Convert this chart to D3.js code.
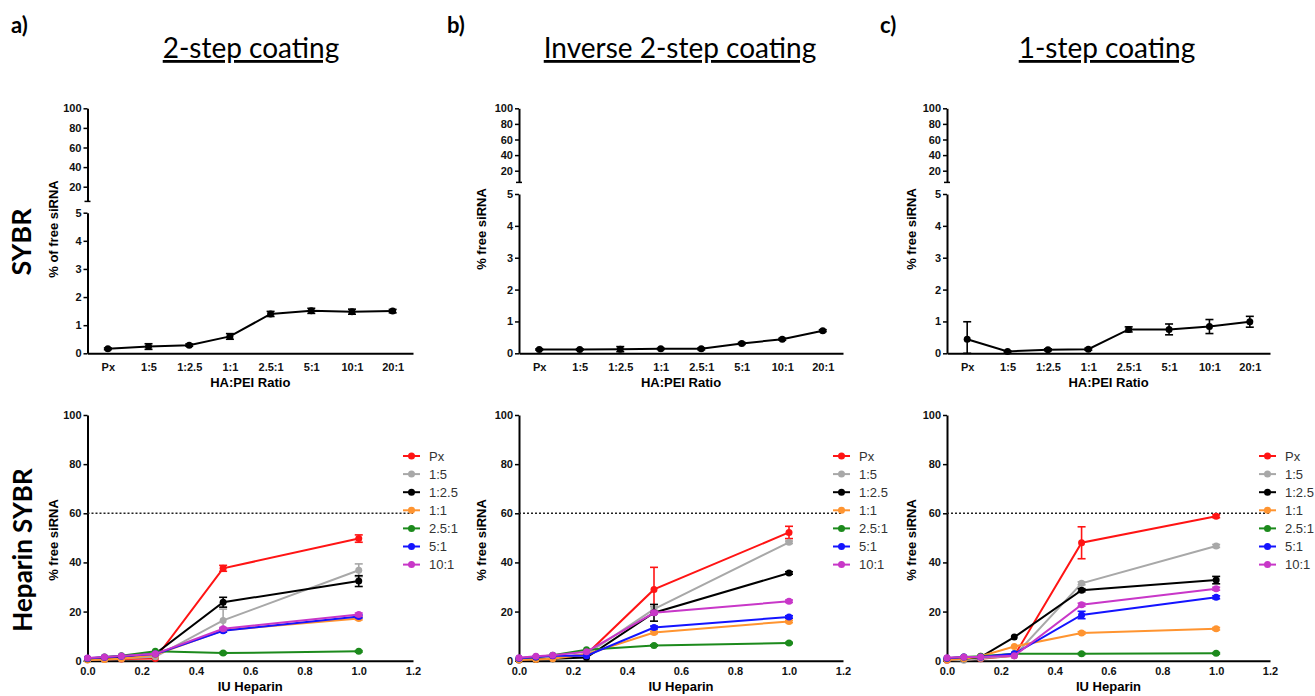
<!DOCTYPE html>
<html>
<head>
<meta charset="utf-8">
<script src="https://cdn.jsdelivr.net/npm/d3@7"></script>
<style>
  body { margin: 0; background: #fff; }
  svg { display: block; }
  .tick text { font-family: "Liberation Sans", Arial, sans-serif; font-weight: bold; font-size: 11px; fill: #111; }
  .axis path, .axis line { stroke: #000; }
  .axis path { stroke-width: 2; }
  .axis line { stroke-width: 1.5; }
</style>
</head>
<body>
<script>
// ---- data ----
var panelLetters = ["a)", "b)", "c)"];
var panelTitles = ["2-step coating", "Inverse 2-step coating", "1-step coating"];
var ratios = ["Px", "1:5", "1:2.5", "1:1", "2.5:1", "5:1", "10:1", "20:1"];

// SYBR: % free siRNA per HA:PEI ratio (mean, error)
var sybrA = [0.16, 0.24, 0.29, 0.6, 1.4, 1.51, 1.48, 1.5];
var sybrAErr = [0.03, 0.1, 0.04, 0.1, 0.09, 0.09, 0.09, 0.06];
var sybrB = [0.12, 0.12, 0.13, 0.14, 0.14, 0.31, 0.44, 0.71];
var sybrBErr = [0.02, 0.02, 0.08, 0.02, 0.03, 0.03, 0.03, 0.03];
var sybrC = [0.44, 0.06, 0.11, 0.13, 0.75, 0.75, 0.84, 0.99];
var sybrCErr = [0.55, 0.02, 0.03, 0.03, 0.08, 0.17, 0.22, 0.17];

// Heparin SYBR
var heparinDose = [0, 0.0625, 0.125, 0.25, 0.5, 1.0];
var seriesNames = ["Px", "1:5", "1:2.5", "1:1", "2.5:1", "5:1", "10:1"];
var seriesColors = ["#ff1414", "#a8a8a8", "#000000", "#ff9430", "#1c8a1c", "#1414ff", "#c837c8"];

var hepA = [
  [0.6, 0.6, 0.7, 0.9, 37.6, 49.7],
  [0.4, 0.6, 0.9, 1.6, 16.4, 36.8],
  [0.8, 1.0, 1.5, 2.8, 23.8, 32.4],
  [0.3, 0.5, 0.8, 2.4, 12.4, 17.2],
  [0.8, 1.5, 2.0, 3.8, 3.1, 3.8],
  [1.0, 1.4, 1.8, 2.7, 12.2, 18.0],
  [1.1, 1.5, 1.9, 2.8, 13.0, 18.8]
];
var hepAErr = [
  [0, 0, 0, 0, 1.2, 1.5],
  [0, 0, 0, 0, 4.6, 2.6],
  [0, 0, 0, 0, 2.0, 2.2],
  [0, 0, 0, 0, 0.5, 0.6],
  [0, 0, 0, 0, 0.3, 0.3],
  [0, 0, 0, 0, 0.6, 0.6],
  [0, 0, 0, 0, 0.5, 0.6]
];
var hepB = [
  [0.5, 0.8, 1.0, 2.6, 29.0, 52.2],
  [0.5, 0.8, 1.2, 2.6, 21.0, 48.2],
  [0.3, 0.5, 0.8, 1.3, 19.5, 35.7],
  [0.3, 0.5, 0.8, 2.6, 11.5, 16.0],
  [1.0, 1.5, 2.2, 4.5, 6.2, 7.2],
  [1.0, 1.5, 2.0, 2.0, 13.5, 17.8],
  [1.2, 1.8, 2.2, 3.6, 19.5, 24.2]
];
var hepBErr = [
  [0, 0, 0, 0, 9.0, 2.5],
  [0, 0, 0, 0, 1.0, 0.5],
  [0, 0, 0, 0, 3.4, 0.5],
  [0, 0, 0, 0, 0.5, 0.5],
  [0, 0, 0, 0, 0.3, 0.3],
  [0, 0, 0, 0, 0.6, 0.5],
  [0, 0, 0, 0, 0.6, 0.5]
];
var hepC = [
  [0.2, 0.5, 0.8, 2.0, 48.0, 58.8],
  [0.3, 0.2, 1.0, 2.0, 31.5, 46.7],
  [0.5, 0.8, 1.5, 9.6, 28.7, 32.8],
  [0.3, 0.8, 1.8, 5.8, 11.3, 13.0],
  [1.0, 1.5, 1.8, 2.8, 2.8, 3.0],
  [1.0, 1.5, 1.5, 2.8, 18.6, 25.8],
  [1.2, 1.5, 1.5, 2.0, 22.8, 29.3]
];
var hepCErr = [
  [0, 0, 0, 0, 6.5, 0.6],
  [0, 0, 0, 0, 0.6, 0.6],
  [0, 0, 0, 0, 0.6, 1.5],
  [0, 0, 0, 0, 0.5, 0.5],
  [0, 0, 0, 0, 0.3, 0.3],
  [0, 0, 0, 0, 1.5, 0.6],
  [0, 0, 0, 0, 0.6, 0.6]
];
var threshold = 60;

var upperTicks = [20, 40, 60, 80, 100];
var lowerTicks = [0, 1, 2, 3, 4, 5];
var heparinTicks = [0, 0.2, 0.4, 0.6, 0.8, 1.0, 1.2];

// ---- layout ----
var panels = [
  {x0: 87.5, x1: 413, upperBottom: 201.4, lowerTop: 212.7, ylab: 54, topLabel: "% of free siRNA", top: sybrA, topErr: sybrAErr, hep: hepA, hepErr: hepAErr, legX: 403, titleX: 251, letterX: 11},
  {x0: 519, x1: 843, upperBottom: 182.4, lowerTop: 194, ylab: 482, topLabel: "% free siRNA", top: sybrB, topErr: sybrBErr, hep: hepB, hepErr: hepBErr, legX: 833, titleX: 680, letterX: 447},
  {x0: 947, x1: 1270, upperBottom: 182.4, lowerTop: 194, ylab: 912, topLabel: "% free siRNA", top: sybrC, topErr: sybrCErr, hep: hepC, hepErr: hepCErr, legX: 1259, titleX: 1107, letterX: 880}
];
var yTop100 = 108.3, yTop0 = 353.3;
var yBot100 = 415, yBot0 = 660.7;

var svg = d3.select("body").append("svg").attr("width", 1315).attr("height", 696);
var labelFont = '"Liberation Sans", Arial, sans-serif';

// row labels
svg.append("text")
    .attr("transform", "translate(31,242) rotate(-90)")
    .attr("text-anchor", "middle")
    .style("font-family", "Lato, 'Open Sans', sans-serif")
    .style("font-weight", "bold")
    .style("font-size", "27px")
    .text("SYBR");
svg.append("text")
    .attr("transform", "translate(32,550) rotate(-90)")
    .attr("text-anchor", "middle")
    .style("font-family", "Lato, 'Open Sans', sans-serif")
    .style("font-weight", "bold")
    .style("font-size", "26px")
    .text("Heparin SYBR");

function errorBars(g, pts, color) {
    var eb = g.append("g").selectAll("g")
        .data(pts.filter(function (d) { return d.e > 0; }))
        .enter().append("g")
        .attr("stroke", color)
        .attr("stroke-width", 1.6);
    eb.append("line")
        .attr("x1", function (d) { return d.x; })
        .attr("x2", function (d) { return d.x; })
        .attr("y1", function (d) { return d.yLo; })
        .attr("y2", function (d) { return d.yHi; });
    eb.append("line")
        .attr("x1", function (d) { return d.x - 4; })
        .attr("x2", function (d) { return d.x + 4; })
        .attr("y1", function (d) { return d.yHi; })
        .attr("y2", function (d) { return d.yHi; });
    eb.append("line")
        .attr("x1", function (d) { return d.x - 4; })
        .attr("x2", function (d) { return d.x + 4; })
        .attr("y1", function (d) { return d.yLo; })
        .attr("y2", function (d) { return d.yLo; });
}

panels.forEach(function (p, pi) {
    var g = svg.append("g");

    // header
    g.append("text")
        .attr("x", p.letterX).attr("y", 33)
        .style("font-family", "Lato, 'Open Sans', sans-serif")
        .style("font-weight", "bold")
        .style("font-size", "22px")
        .text(panelLetters[pi]);
    g.append("text")
        .attr("x", p.titleX).attr("y", 58)
        .attr("text-anchor", "middle")
        .style("font-family", "Lato, 'Open Sans', sans-serif")
        .style("font-size", "28px")
        .style("text-decoration", "underline")
        .text(panelTitles[pi]);

    // ---- top: SYBR with broken y axis ----
    var x = d3.scalePoint().domain(ratios).range([p.x0, p.x1]).padding(0.5);
    var yLow = d3.scaleLinear().domain([0, 5]).range([yTop0, p.lowerTop]);
    var yUp = d3.scaleLinear().domain([5, 100]).range([p.upperBottom, yTop100]);

    g.append("g").attr("class", "axis")
        .attr("transform", "translate(" + p.x0 + ",0)")
        .call(d3.axisLeft(yLow).tickValues(lowerTicks).tickFormat(d3.format("d")).tickSize(4).tickSizeOuter(0).tickPadding(2));
    g.append("g").attr("class", "axis")
        .attr("transform", "translate(" + p.x0 + ",0)")
        .call(d3.axisLeft(yUp).tickValues(upperTicks).tickFormat(d3.format("d")).tickSize(4).tickSizeOuter(0).tickPadding(2));
    // break marks
    g.append("line").attr("x1", p.x0 - 3).attr("x2", p.x0 + 3)
        .attr("y1", p.upperBottom).attr("y2", p.upperBottom)
        .attr("stroke", "#000").attr("stroke-width", 1.5);

    var xa = g.append("g").attr("class", "axis")
        .attr("transform", "translate(0," + yTop0 + ")")
        .call(d3.axisBottom(x).tickSize(0).tickPadding(10));
    xa.selectAll(".tick text").style("font-size", "11px");

    g.append("text")
        .attr("x", (p.x0 + p.x1) / 2).attr("y", 387)
        .attr("text-anchor", "middle")
        .style("font-family", labelFont).style("font-weight", "bold").style("font-size", "13px")
        .text("HA:PEI Ratio");
    g.append("text")
        .attr("transform", "translate(" + (p.ylab + 4) + ",229) rotate(-90)")
        .attr("text-anchor", "middle")
        .style("font-family", labelFont).style("font-weight", "bold").style("font-size", "13px")
        .text(p.topLabel);

    var topPts = ratios.map(function (r, i) {
        var v = p.top[i], e = p.topErr[i];
        return {x: x(r), y: yLow(v), e: e, yLo: yLow(Math.max(0, v - e)), yHi: yLow(v + e)};
    });
    errorBars(g, topPts, "#000");
    g.append("path")
        .datum(topPts)
        .attr("fill", "none").attr("stroke", "#000").attr("stroke-width", 2)
        .attr("d", d3.line().x(function (d) { return d.x; }).y(function (d) { return d.y; }));
    g.append("g").selectAll("circle")
        .data(topPts)
        .enter().append("circle")
        .attr("cx", function (d) { return d.x; })
        .attr("cy", function (d) { return d.y; })
        .attr("r", 3.5)
        .attr("fill", "#000");

    // ---- bottom: Heparin SYBR ----
    var hx = d3.scaleLinear().domain([0, 1.2]).range([p.x0, p.x1]);
    var hy = d3.scaleLinear().domain([0, 100]).range([yBot0, yBot100]);

    g.append("g").attr("class", "axis")
        .attr("transform", "translate(" + p.x0 + ",0)")
        .call(d3.axisLeft(hy).tickValues([0, 20, 40, 60, 80, 100]).tickSize(4).tickSizeOuter(0).tickPadding(2));
    g.append("g").attr("class", "axis")
        .attr("transform", "translate(0," + yBot0 + ")")
        .call(d3.axisBottom(hx).tickValues(heparinTicks).tickFormat(d3.format(".1f")).tickSize(0).tickPadding(7));

    g.append("text")
        .attr("x", (p.x0 + p.x1) / 2).attr("y", 691)
        .attr("text-anchor", "middle")
        .style("font-family", labelFont).style("font-weight", "bold").style("font-size", "13px")
        .text("IU Heparin");
    g.append("text")
        .attr("transform", "translate(" + (p.ylab + 4) + ",540) rotate(-90)")
        .attr("text-anchor", "middle")
        .style("font-family", labelFont).style("font-weight", "bold").style("font-size", "13px")
        .text("% free siRNA");

    // dotted threshold
    g.append("line")
        .attr("x1", hx(0)).attr("x2", hx(1.2))
        .attr("y1", hy(threshold)).attr("y2", hy(threshold))
        .attr("stroke", "#222").attr("stroke-width", 1.5)
        .attr("stroke-dasharray", "2,2");

    seriesNames.forEach(function (name, si) {
        var col = seriesColors[si];
        var pts = heparinDose.map(function (d, i) {
            var v = p.hep[si][i], e = p.hepErr[si][i];
            return {x: hx(d), y: hy(v), e: e, yLo: hy(Math.max(0, v - e)), yHi: hy(v + e)};
        });
        var sg = g.append("g");
        errorBars(sg, pts, col);
        sg.append("path")
            .datum(pts)
            .attr("fill", "none").attr("stroke", col).attr("stroke-width", 2)
            .attr("d", d3.line().x(function (d) { return d.x; }).y(function (d) { return d.y; }));
        sg.selectAll("circle")
            .data(pts)
            .enter().append("circle")
            .attr("cx", function (d) { return d.x; })
            .attr("cy", function (d) { return d.y; })
            .attr("r", 3.5)
            .attr("fill", col);
    });

    // legend
    var leg = g.append("g").attr("transform", "translate(" + p.legX + ",456)");
    var row = leg.selectAll("g")
        .data(seriesNames)
        .enter().append("g")
        .attr("transform", function (d, i) { return "translate(0," + (i * 18.1) + ")"; });
    row.append("line")
        .attr("x1", 0).attr("x2", 17)
        .attr("stroke", function (d, i) { return seriesColors[i]; })
        .attr("stroke-width", 2);
    row.append("circle")
        .attr("cx", 8.5).attr("r", 3.5)
        .attr("fill", function (d, i) { return seriesColors[i]; });
    row.append("text")
        .attr("x", 26).attr("dy", "0.35em")
        .style("font-family", labelFont).style("font-size", "13px")
        .attr("fill", "#333")
        .text(function (d) { return d; });
});
</script>
</body>
</html>
